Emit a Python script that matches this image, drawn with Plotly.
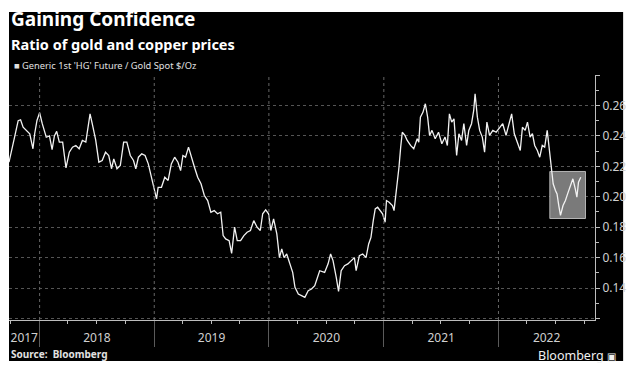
import datetime as dt
import plotly.graph_objects as go

# ---- data ----
# time as decimal year, ratio value
t_dec = [2017.733, 2017.756, 2017.784, 2017.813, 2017.834, 2017.856, 2017.885, 2017.914, 2017.942, 2017.957,
         2017.977, 2018.000, 2018.023, 2018.058, 2018.086, 2018.109, 2018.129, 2018.149, 2018.172, 2018.201,
         2018.230, 2018.259, 2018.287, 2018.316, 2018.345, 2018.373, 2018.403, 2018.422, 2018.440, 2018.459,
         2018.489, 2018.517, 2018.546, 2018.575, 2018.603, 2018.627, 2018.647, 2018.675, 2018.704, 2018.733,
         2018.761, 2018.791, 2018.819, 2018.839, 2018.862, 2018.891, 2018.920, 2018.948, 2018.977, 2019.006,
         2019.020, 2019.034, 2019.063, 2019.092, 2019.121, 2019.149, 2019.178, 2019.207, 2019.230, 2019.250,
         2019.273, 2019.299, 2019.322, 2019.351, 2019.379, 2019.408, 2019.437, 2019.466, 2019.494, 2019.523,
         2019.552, 2019.580, 2019.601, 2019.623, 2019.653, 2019.675, 2019.701, 2019.724, 2019.753, 2019.782,
         2019.810, 2019.839, 2019.868, 2019.897, 2019.925, 2019.946, 2019.972, 2019.997, 2020.017, 2020.041,
         2020.069, 2020.092, 2020.112, 2020.132, 2020.155, 2020.184, 2020.207, 2020.227, 2020.256, 2020.284,
         2020.313, 2020.342, 2020.371, 2020.399, 2020.442, 2020.485, 2020.515, 2020.537, 2020.558, 2020.586,
         2020.606, 2020.629, 2020.658, 2020.687, 2020.716, 2020.744, 2020.759, 2020.787, 2020.816, 2020.845,
         2020.868, 2020.888, 2020.908, 2020.925, 2020.946, 2020.966, 2020.989, 2021.011, 2021.023, 2021.046,
         2021.075, 2021.089, 2021.103, 2021.118, 2021.132, 2021.147, 2021.161, 2021.184, 2021.204, 2021.233,
         2021.261, 2021.291, 2021.305, 2021.319, 2021.342, 2021.362, 2021.382, 2021.399, 2021.420, 2021.448,
         2021.477, 2021.506, 2021.534, 2021.554, 2021.572, 2021.592, 2021.612, 2021.635, 2021.655, 2021.678,
         2021.698, 2021.722, 2021.741, 2021.765, 2021.784, 2021.796, 2021.816, 2021.836, 2021.859, 2021.879,
         2021.899, 2021.922, 2021.951, 2021.980, 2022.009, 2022.037, 2022.066, 2022.095, 2022.115, 2022.138,
         2022.161, 2022.190, 2022.209, 2022.233, 2022.253, 2022.276, 2022.296, 2022.316, 2022.339, 2022.360,
         2022.382, 2022.403, 2022.425, 2022.446, 2022.460, 2022.477, 2022.497, 2022.511, 2022.526, 2022.541,
         2022.563, 2022.584, 2022.603, 2022.627, 2022.649, 2022.670, 2022.684, 2022.698, 2022.718]

ratio = [0.2227, 0.2315, 0.2400, 0.2500, 0.2506, 0.2457, 0.2436, 0.2414, 0.2315, 0.2414,
         0.2501, 0.2552, 0.2480, 0.2391, 0.2400, 0.2309, 0.2400, 0.2430, 0.2359, 0.2359,
         0.2190, 0.2293, 0.2326, 0.2337, 0.2315, 0.2370, 0.2359, 0.2457, 0.2545, 0.2480,
         0.2374, 0.2227, 0.2238, 0.2293, 0.2271, 0.2184, 0.2249, 0.2184, 0.2205, 0.2359,
         0.2359, 0.2271, 0.2238, 0.2184, 0.2260, 0.2282, 0.2271, 0.2216, 0.2128, 0.2041,
         0.1986, 0.2062, 0.2062, 0.2128, 0.2107, 0.2216, 0.2260, 0.2227, 0.2172, 0.2271,
         0.2260, 0.2326, 0.2260, 0.2194, 0.2128, 0.2085, 0.2008, 0.1975, 0.1898, 0.1909,
         0.1888, 0.1898, 0.1745, 0.1723, 0.1712, 0.1628, 0.1800, 0.1712, 0.1712, 0.1745,
         0.1767, 0.1778, 0.1843, 0.1800, 0.1778, 0.1888, 0.1914, 0.1888, 0.1778, 0.1855,
         0.1756, 0.1600, 0.1657, 0.1600, 0.1624, 0.1559, 0.1503, 0.1405, 0.1361, 0.1350,
         0.1339, 0.1383, 0.1394, 0.1416, 0.1514, 0.1503, 0.1559, 0.1624, 0.1580, 0.1470,
         0.1378, 0.1514, 0.1547, 0.1559, 0.1580, 0.1600, 0.1514, 0.1613, 0.1624, 0.1600,
         0.1690, 0.1733, 0.1843, 0.1920, 0.1931, 0.1909, 0.1888, 0.1832, 0.1975, 0.1964,
         0.1942, 0.1909, 0.1997, 0.2073, 0.2194, 0.2326, 0.2424, 0.2403, 0.2370, 0.2337,
         0.2315, 0.2381, 0.2359, 0.2523, 0.2556, 0.2611, 0.2523, 0.2403, 0.2436, 0.2381,
         0.2424, 0.2348, 0.2392, 0.2337, 0.2545, 0.2490, 0.2512, 0.2271, 0.2414, 0.2370,
         0.2480, 0.2337, 0.2436, 0.2480, 0.2567, 0.2677, 0.2523, 0.2436, 0.2392, 0.2293,
         0.2490, 0.2403, 0.2436, 0.2424, 0.2457, 0.2480, 0.2403, 0.2480, 0.2545, 0.2414,
         0.2359, 0.2304, 0.2457, 0.2436, 0.2490, 0.2392, 0.2414, 0.2337, 0.2304, 0.2260,
         0.2337, 0.2326, 0.2436, 0.2304, 0.2194, 0.2085, 0.2041, 0.2019, 0.1942, 0.1877,
         0.1942, 0.1975, 0.2019, 0.2073, 0.2118, 0.2052, 0.1997, 0.2096, 0.2128]

# highlighted box (decimal years / ratio values)
box_t = [2022.448, 2022.759]
box_v = [0.1857, 0.2166]

x_range_dec = [2017.733, 2022.842]
year_label_pos = [2017.866, 2018.5, 2019.5, 2020.5, 2021.5, 2022.42]
year_labels = ["2017", "2018", "2019", "2020", "2021", "2022"]
year_bounds = [2018, 2019, 2020, 2021, 2022]

y_ticks = [0.12, 0.14, 0.16, 0.18, 0.20, 0.22, 0.24, 0.26, 0.28]
y_ticktext = ["", "0.14", "0.16", "0.18", "0.20", "0.22", "0.24", "0.26", ""]
y_range = [0.119, 0.28]

series_name = "Generic 1st 'HG' Future / Gold Spot $/Oz"


def to_date(t):
    y = int(t)
    start = dt.datetime(y, 1, 1)
    ndays = (dt.datetime(y + 1, 1, 1) - start).days
    return start + dt.timedelta(days=(t - y) * ndays)


dates = [to_date(t) for t in t_dec]
quarters = []
for yr in range(2017, 2023):
    for m in (1, 4, 7, 10):
        quarters.append(dt.datetime(yr, m, 1))

fig = go.Figure()
fig.add_trace(go.Scatter(x=dates, y=ratio, mode="lines", name=series_name,
                         line=dict(color="#f2f2f2", width=1.3), showlegend=False))

grid_col = "#555555"
axis_col = "#bdbdbd"
xr = [to_date(x_range_dec[0]), to_date(x_range_dec[1])]

fig.update_layout(
    width=635, height=379,
    margin=dict(l=9, r=33, t=75, b=59),
    paper_bgcolor="white", plot_bgcolor="black",
    font=dict(family="Noto Sans", color="#d0d0d0"),
    xaxis=dict(type="date", range=xr, tickmode="array",
               tickvals=[to_date(v) for v in year_label_pos], ticktext=year_labels,
               ticks="", showgrid=False, zeroline=False,
               showline=True, linecolor=axis_col, linewidth=1,
               tickfont=dict(size=12, color="#d0d0d0"), ticklabelstandoff=7,
               minor=dict(tickmode="array", tickvals=quarters, ticks="outside",
                          ticklen=3, tickcolor=axis_col, showgrid=False)),
    xaxis2=dict(type="date", range=xr, overlaying="x", anchor="y", side="bottom",
                tickmode="array", tickvals=[dt.datetime(y, 1, 1) for y in year_bounds],
                showticklabels=False, ticks="outside", ticklen=26, tickcolor="#5a5a5a",
                tickwidth=1, showgrid=False, showline=False, zeroline=False),
    yaxis=dict(side="right", range=y_range, tickmode="array", tickvals=y_ticks,
               ticktext=y_ticktext, ticks="outside", ticklen=4, tickcolor=axis_col,
               showline=True, linecolor=axis_col, showgrid=True, gridcolor=grid_col,
               griddash="dot", zeroline=False, tickfont=dict(size=12, color="#d0d0d0"),
               ticklabeloverflow="allow",
               minor=dict(dtick=0.01, tick0=0.12, ticks="outside", ticklen=3,
                          tickcolor=axis_col, showgrid=False)),
)

# invisible trace to activate xaxis2
fig.add_trace(go.Scatter(x=xr, y=[None, None], xaxis="x2", yaxis="y",
                         mode="lines", showlegend=False, hoverinfo="skip"))

# black card background
fig.add_shape(type="rect", xref="paper", yref="paper", x0=0, x1=1.048, y0=-0.167, y1=1.257,
              fillcolor="black", line=dict(width=0), layer="below")
# year separators inside the plot (dotted gridlines at year boundaries)
for yb in year_bounds:
    fig.add_shape(type="line", xref="x", yref="y",
                  x0=dt.datetime(yb, 1, 1), x1=dt.datetime(yb, 1, 1),
                  y0=y_range[0], y1=y_range[1],
                  line=dict(color="#666666", width=1, dash="dot"), layer="above")
# highlight box
fig.add_shape(type="rect", xref="x", yref="y",
              x0=to_date(box_t[0]), x1=to_date(box_t[1]), y0=box_v[0], y1=box_v[1],
              fillcolor="#7a7a7a", line=dict(color="#b5b5b5", width=1), layer="between")

fig.add_annotation(text="<b>Gaining Confidence</b>", xref="paper", yref="paper",
                   x=0.0, y=1.229, xanchor="left", yanchor="middle", showarrow=False,
                   font=dict(family="Noto Sans", size=19, color="white"))
fig.add_annotation(text="<b>Ratio of gold and copper prices</b>", xref="paper", yref="paper",
                   x=0.0, y=1.127, xanchor="left", yanchor="middle", showarrow=False,
                   font=dict(family="Noto Sans", size=14.5, color="white"))
fig.add_annotation(text="■ " + series_name, xref="paper", yref="paper",
                   x=0.005, y=1.04, xanchor="left", yanchor="middle", showarrow=False,
                   font=dict(family="Noto Sans", size=9.3, color="#e0e0e0"))
fig.add_annotation(text="<b>Source:  Bloomberg</b>", xref="paper", yref="paper",
                   x=0.0, y=-0.14, xanchor="left", yanchor="middle", showarrow=False,
                   font=dict(family="Noto Sans", size=10, color="#e0e0e0"))
fig.add_annotation(text="Bloomberg <span style='font-size:10px'>▣</span>", xref="paper", yref="paper",
                   x=1.04, y=-0.143, xanchor="right", yanchor="middle", showarrow=False,
                   font=dict(family="Noto Sans", size=12.5, color="#f0f0f0"))

fig.write_html("out.html", config={"displayModeBar": False},
               post_script="document.body.style.margin='0';")
